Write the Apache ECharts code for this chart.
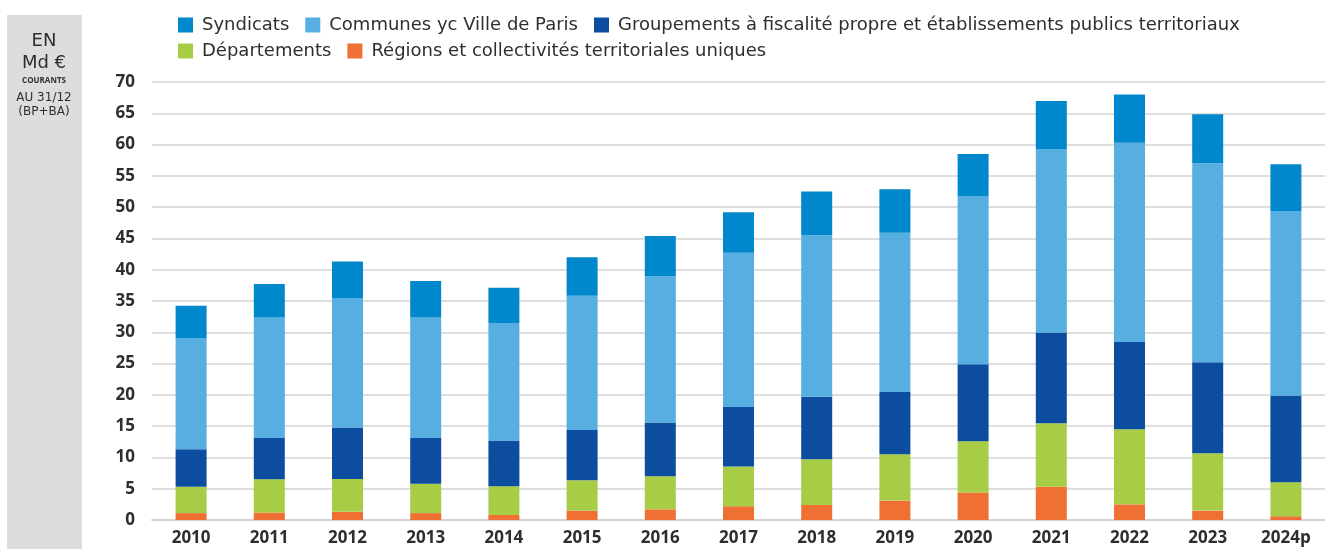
<!DOCTYPE html>
<html>
<head>
<meta charset="utf-8">
<script src="https://cdn.jsdelivr.net/npm/echarts@6/dist/echarts.min.js"></script>
<style>
  html, body { margin: 0; padding: 0; background: #fff; }
  #chart { width: 1325px; height: 549px; }
</style>
</head>
<body>
<div id="chart"></div>
<script>
// Investissement par niveau de collectivité, Md€ courants
const years = ['2010', '2011', '2012', '2013', '2014', '2015', '2016', '2017',
  '2018', '2019', '2020', '2021', '2022', '2023', '2024p'];

const regions      = [1.1, 1.2, 1.3, 1.1, 0.8, 1.5, 1.7, 2.2, 2.4, 3.1, 4.4, 5.3, 2.5, 1.5, 0.6];
const departements = [4.2, 5.3, 5.25, 4.7, 4.6, 4.85, 5.3, 6.35, 7.3, 7.4, 8.2, 10.15, 12.0, 9.15, 5.45];
const groupements  = [6.0, 6.6, 8.25, 7.3, 7.3, 8.05, 8.6, 9.5, 10.0, 9.95, 12.3, 14.5, 13.95, 14.55, 13.85];
const communes     = [17.8, 19.25, 20.6, 19.25, 18.8, 21.45, 23.35, 24.65, 25.8, 25.45, 26.9, 29.35, 31.85, 31.8, 29.5];
const syndicats    = [5.15, 5.35, 5.9, 5.85, 5.6, 6.15, 6.45, 6.5, 7.0, 6.95, 6.7, 7.65, 7.7, 7.85, 7.45];

const TEXT = '#2e2e2e';
const FONT = '"Open Sans", "DejaVu Sans", sans-serif';
const WIDE = '"DejaVu Sans", sans-serif';

function bar(name, data, color) {
  return {
    name, type: 'bar', stack: 'total', data,
    barWidth: 31,
    itemStyle: { color },
    emphasis: { disabled: true },
  };
}

const chart = echarts.init(document.getElementById('chart'), null, { renderer: 'canvas' });

const legendBase = {
  left: 173, itemWidth: 15, itemHeight: 15, icon: 'rect', itemGap: 16,
  textStyle: { color: TEXT, fontFamily: WIDE, fontSize: 18, padding: [0, 0, 0, 4] },
  selectedMode: false,
};

chart.setOption({
  animation: false,
  textStyle: { fontFamily: FONT },
  legend: [
    { ...legendBase, top: 11,
      data: ['Syndicats', 'Communes yc Ville de Paris', 'Groupements à fiscalité propre et établissements publics territoriaux'] },
    { ...legendBase, top: 37,
      data: ['Départements', 'Régions et collectivités territoriales uniques'] },
  ],
  grid: { left: 152, top: 82, width: 1182, height: 438 },
  xAxis: {
    type: 'category', data: years,
    axisLine: { lineStyle: { color: '#d4d4d4', width: 2 } },
    axisTick: { show: false },
    axisLabel: { color: TEXT, fontFamily: FONT, fontSize: 17, fontWeight: 'bold', margin: 10 },
  },
  yAxis: {
    type: 'value', min: 0, max: 70, interval: 5,
    axisLine: { show: false },
    axisTick: { show: false },
    axisLabel: { color: TEXT, fontFamily: FONT, fontSize: 17, fontWeight: 'bold', margin: 17 },
    splitLine: { lineStyle: { color: '#dedede', width: 2 } },
  },
  series: [
    bar('Régions et collectivités territoriales uniques', regions, '#ee7033'),
    bar('Départements', departements, '#a6cd45'),
    bar('Groupements à fiscalité propre et établissements publics territoriaux', groupements, '#0d4da0'),
    bar('Communes yc Ville de Paris', communes, '#57aee1'),
    bar('Syndicats', syndicats, '#0087cc'),
  ],
  graphic: [
    { type: 'rect', left: 7, top: 15, shape: { width: 75, height: 534 }, style: { fill: '#dcdddf' }, z: -1 },
    { type: 'text', x: 44, y: 41, style: { text: 'EN', fill: TEXT, font: '18px ' + WIDE, align: 'center', verticalAlign: 'middle' } },
    { type: 'text', x: 44, y: 63, style: { text: 'Md €', fill: TEXT, font: '18px ' + WIDE, align: 'center', verticalAlign: 'middle' } },
    { type: 'text', x: 44, y: 81, style: { text: 'COURANTS', fill: TEXT, font: 'bold 8px ' + FONT, align: 'center', verticalAlign: 'middle' } },
    { type: 'text', x: 44, y: 98, style: { text: 'AU 31/12', fill: TEXT, font: '12px ' + WIDE, align: 'center', verticalAlign: 'middle' } },
    { type: 'text', x: 44, y: 112, style: { text: '(BP+BA)', fill: TEXT, font: '12px ' + WIDE, align: 'center', verticalAlign: 'middle' } },
  ],
});
</script>
</body>
</html>
